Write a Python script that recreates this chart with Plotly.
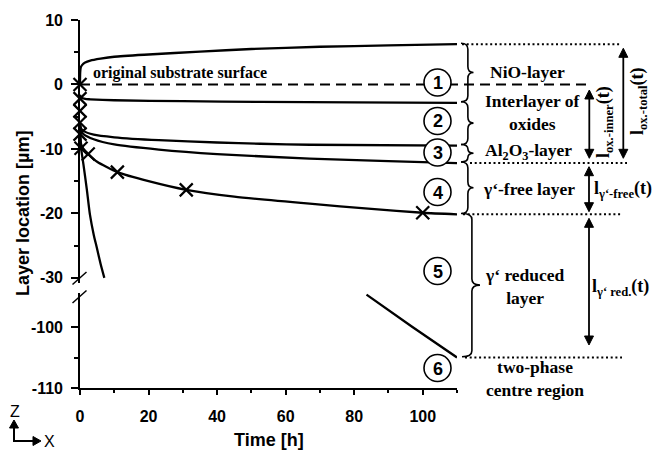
import plotly.graph_objects as go

# ---------------- data ----------------
t_nio = [0, 0.05, 0.2, 0.6, 1.5, 3, 6, 10, 20, 35, 50, 70, 90, 110]
y_nio = [0, 1.8, 2.6, 3.0, 3.4, 3.7, 4.0, 4.3, 4.65, 5.1, 5.5, 5.85, 6.05, 6.25]

t_inter = [0, 0.4, 1.5, 3, 10, 30, 52.6, 80, 110]
y_inter = [-1.6, -2.05, -2.25, -2.3, -2.45, -2.6, -2.7, -2.78, -2.85]

t_al_top = [0, 0.3, 1, 4, 10, 23, 40, 52.6, 67, 110]
y_al_top = [-6.0, -6.8, -7.2, -7.8, -8.2, -8.65, -9.0, -9.2, -9.35, -9.5]

t_al_bot = [0, 0.3, 1, 4, 10, 23, 40, 67, 90, 110]
y_al_bot = [-6.3, -7.2, -7.7, -8.5, -9.3, -10.1, -10.8, -11.5, -11.9, -12.2]

t_gfree = [0, 0.3, 1, 2.4, 5, 10.9, 20, 31, 45, 67, 85, 100, 110]
y_gfree = [-7.0, -9.2, -10.0, -10.8, -12.0, -13.6, -15.0, -16.35, -17.4, -18.5, -19.3, -19.9, -20.15]

t_red_upper = [0, 0.3, 1, 2, 2.9, 4, 4.9, 6, 7.1]
y_red_upper = [-7.5, -9.8, -12.4, -16.3, -20.2, -23.3, -25.3, -27.8, -30.0]

t_red_lower = [83.6, 97, 110]
y_red_lower = [-94.7, -100.0, -105.0]

t_marks = [0, 0, 0, 0, 0, 0.3, 2.4, 10.9, 31, 100]
y_marks = [0, -2.2, -4.1, -5.9, -7.7, -9.9, -10.8, -13.6, -16.35, -19.9]

x_tick_vals = [0, 20, 40, 60, 80, 100]
x_tick_text = ["0", "20", "40", "60", "80", "100"]
x_minor_vals = [10, 30, 50, 70, 90, 110]
y_tick_vals = [10, 0, -10, -20, -30]
y_tick_text = ["10", "0", "-10", "-20", "-30"]
y_minor_vals = [5, -5, -15, -25]
y2_tick_vals = [-100, -110]
y2_tick_text = ["-100", "-110"]
y2_minor_vals = [-105]

level_surface = 6.25
level_subst = 0
level_al_bot = -12.2
level_gfree = -20.15
level_red = -105

# ---------------- geometry helpers (pixel -> paper) ----------------
W, H = 654, 450
ML, MR, MT, MB = 80, 197, 20, 62
PW, PH = W - ML - MR, H - MT - MB


def PX(p):
    return (p - ML) / PW


def PY(p):
    return (H - MB - p) / PH


BLACK = "black"
LW = 2.3
SANS = "Liberation Sans, Arial, sans-serif"
SERIF = "Liberation Serif, Times New Roman, serif"

fig = go.Figure()


def curve(t, y, axis="y"):
    fig.add_trace(go.Scatter(x=t, y=y, mode="lines", yaxis=axis,
                             line=dict(color=BLACK, width=LW, shape="spline", smoothing=0.6),
                             showlegend=False, hoverinfo="skip"))


curve(t_nio, y_nio)
curve(t_inter, y_inter)
curve(t_al_top, y_al_top)
curve(t_al_bot, y_al_bot)
curve(t_gfree, y_gfree)
curve(t_red_upper, y_red_upper)
curve(t_red_lower, y_red_lower, "y2")

fig.add_trace(go.Scatter(x=t_marks, y=y_marks, mode="markers", yaxis="y",
                         marker=dict(symbol="x-thin", size=13, line=dict(color=BLACK, width=2.2)),
                         cliponaxis=False, showlegend=False, hoverinfo="skip"))

axis_common = dict(showline=True, linecolor=BLACK, linewidth=1.6, ticks="outside",
                   tickcolor=BLACK, tickwidth=1.6, showgrid=False, zeroline=False,
                   tickfont=dict(family=SANS, size=16, color=BLACK, weight="bold"))

fig.update_layout(
    width=W, height=H,
    margin=dict(l=ML, r=MR, t=MT, b=MB),
    plot_bgcolor="white", paper_bgcolor="white",
    showlegend=False,
    xaxis=dict(domain=[0, 1], range=[0, 110], anchor="y2", tickmode="array",
               tickvals=x_tick_vals, ticktext=x_tick_text, ticklen=5,
               ticklabelstandoff=8,
               minor=dict(tickmode="array", tickvals=x_minor_vals, ticklen=3,
                          tickwidth=1.6, tickcolor=BLACK, ticks="outside"),
               **axis_common),
    yaxis=dict(domain=[PY(283), 1], range=[-30.8, 10], anchor="x", tickmode="array",
               tickvals=y_tick_vals, ticktext=y_tick_text, ticklen=7,
               ticklabelstandoff=5,
               minor=dict(tickmode="array", tickvals=y_minor_vals, ticklen=4,
                          tickwidth=1.6, tickcolor=BLACK, ticks="outside"),
               **axis_common),
    yaxis2=dict(domain=[0, PY(293)], range=[-110, -110 + 95 / 6.1], anchor="x",
                tickmode="array", tickvals=y2_tick_vals, ticktext=y2_tick_text, ticklen=7,
                ticklabelstandoff=5,
                minor=dict(tickmode="array", tickvals=y2_minor_vals, ticklen=4,
                           tickwidth=1.6, tickcolor=BLACK, ticks="outside"),
                **axis_common),
)

shapes = []
# axis break marks
for (xa, ya, xb, yb) in [(72.5, 284.5, 86.5, 272), (72.5, 303, 86.5, 290.5)]:
    shapes.append(dict(type="line", xref="paper", yref="paper", x0=PX(xa), y0=PY(ya),
                       x1=PX(xb), y1=PY(yb), line=dict(color=BLACK, width=1.5)))

# original substrate surface (dashed) and dotted level lines
shapes.append(dict(type="line", xref="paper", yref="y", x0=0, x1=PX(591), y0=level_subst,
                   y1=level_subst, line=dict(color=BLACK, width=2, dash="10px,6px"), layer="below"))
dot = dict(color=BLACK, width=2, dash="2px,2.7px")
shapes.append(dict(type="line", xref="paper", yref="y", x0=PX(462), x1=PX(620),
                   y0=level_surface, y1=level_surface, line=dot))
shapes.append(dict(type="line", xref="paper", yref="y", x0=PX(470), x1=PX(627),
                   y0=level_al_bot, y1=level_al_bot, line=dot))
shapes.append(dict(type="line", xref="paper", yref="y", x0=PX(463), x1=PX(622),
                   y0=level_gfree, y1=level_gfree, line=dot))
shapes.append(dict(type="line", xref="paper", yref="y2", x0=PX(465), x1=PX(622),
                   y0=level_red, y1=level_red, line=dot))


def pathstr(segs):
    s = ""
    for cmd, pp in segs:
        s += cmd + " ".join(f"{PX(a):.5f},{PY(b):.5f}" for a, b in pp) + " "
    return s.strip()


def brace(x0, y0, y1, w):
    xm = x0 + w * 0.55
    xt = x0 + w
    ym = (y0 + y1) / 2
    r = min(6, (y1 - y0) / 4)
    segs = [
        ("M", [(x0, y0)]),
        ("Q", [(xm, y0), (xm, y0 + r)]),
        ("L", [(xm, ym - r)]),
        ("Q", [(xm, ym), (xt, ym)]),
        ("Q", [(xm, ym), (xm, ym + r)]),
        ("L", [(xm, y1 - r)]),
        ("Q", [(xm, y1), (x0, y1)]),
    ]
    return dict(type="path", xref="paper", yref="paper", path=pathstr(segs),
                line=dict(color=BLACK, width=1.6))


shapes.append(brace(461, 43.3, 101.7, 12.5))
shapes.append(brace(461, 101.7, 144.5, 12.5))
shapes.append(brace(461, 144.5, 162, 12.5))
shapes.append(brace(461, 162, 213.5, 12.5))
shapes.append(brace(462, 213.5, 356.7, 18))


def head(tx, ty, dx, dy, length=9, half=4.5):
    # filled triangle with tip at (tx,ty) pointing in direction (dx,dy)
    bx, by = tx - dx * length, ty - dy * length
    px_, py_ = -dy * half, dx * half
    segs = [("M", [(tx, ty)]), ("L", [(bx + px_, by + py_)]), ("L", [(bx - px_, by - py_)]), ("Z", [])]
    return dict(type="path", xref="paper", yref="paper", path=pathstr(segs),
                fillcolor=BLACK, line=dict(color=BLACK, width=1))


def vline(x, y0, y1, width=1.8):
    return dict(type="line", xref="paper", yref="paper", x0=PX(x), x1=PX(x), y0=PY(y0), y1=PY(y1),
                line=dict(color=BLACK, width=width))


def darrow(x, ytop, ybot):
    shapes.append(vline(x, ytop + 6, ybot - 6))
    shapes.append(head(x, ytop, 0, -1))
    shapes.append(head(x, ybot, 0, 1))


darrow(589.3, 90, 158.3)
darrow(623.3, 48.3, 158.3)
darrow(589, 166.7, 211.7)
darrow(589, 218.3, 345)

# coordinate system icon
shapes.append(vline(14, 441, 426, width=2))
shapes.append(head(14, 420, 0, -1, length=8, half=4.5))
shapes.append(dict(type="line", xref="paper", yref="paper", x0=PX(13), x1=PX(34), y0=PY(441), y1=PY(441),
                   line=dict(color=BLACK, width=2)))
shapes.append(head(41, 441, 1, 0, length=8, half=4.5))

# numbered circles
circle_y = [82.5, 121, 152.5, 192, 271, 368]
for cy in circle_y:
    r = 13.5
    shapes.append(dict(type="circle", xref="paper", yref="paper", x0=PX(437.5 - r), x1=PX(437.5 + r),
                       y0=PY(cy + r), y1=PY(cy - r), fillcolor="white",
                       line=dict(color=BLACK, width=1.6), layer="above"))

fig.update_layout(shapes=shapes)

ann = []
for i, cy in enumerate(circle_y):
    ann.append(dict(text=str(i + 1), xref="paper", yref="paper", x=PX(437.5), y=PY(cy + 0.5),
                    showarrow=False, xanchor="center", yanchor="middle",
                    font=dict(family=SANS, size=18, color=BLACK, weight="bold")))

serif = dict(family=SERIF, size=17.5, color=BLACK, weight="bold")


def label(text, x, y, **kw):
    d = dict(text=text, xref="paper", yref="paper", x=PX(x), y=PY(y), showarrow=False,
             xanchor="center", yanchor="middle", font=serif)
    d.update(kw)
    ann.append(d)


label("original substrate surface", 91, 72.5, xanchor="left",
      font=dict(family=SERIF, size=16, color=BLACK, weight="bold"))
label("NiO-layer", 527, 72)
label("Interlayer of<br>oxides", 532, 112.5)
label("Al<sub>2</sub>O<sub>3</sub>-layer", 528, 151)
label("γ‘-free layer", 529, 189)
label("γ‘ reduced<br>layer", 524.5, 286.5)
label("two-phase<br>centre region", 534.5, 378.5)

lab18 = dict(family=SERIF, size=18, color=BLACK, weight="bold")
label("l<sub>ox.-inner</sub>(t)", 604, 122, textangle=-90, font=lab18)
label("l<sub>ox.-total</sub>(t)", 638, 102, textangle=-90, font=lab18)
label("l<sub>γ‘-free</sub>(t)", 623, 189, font=lab18)
label("l<sub>γ‘ red.</sub>(t)", 620, 287, font=lab18)

# axis titles
label("Time [h]", 268.5, 440, font=dict(family=SANS, size=18, color=BLACK, weight="bold"))
label("Layer location [µm]", 22.5, 213.5, textangle=-90,
      font=dict(family=SANS, size=18, color=BLACK, weight="bold"))

label("Z", 15, 411, font=dict(family=SANS, size=16, color=BLACK))
label("X", 49, 441.5, font=dict(family=SANS, size=16, color=BLACK))

fig.update_layout(annotations=ann)

fig.write_html("out.html", post_script="document.body.style.margin='0px';",
               config={"displayModeBar": False})
